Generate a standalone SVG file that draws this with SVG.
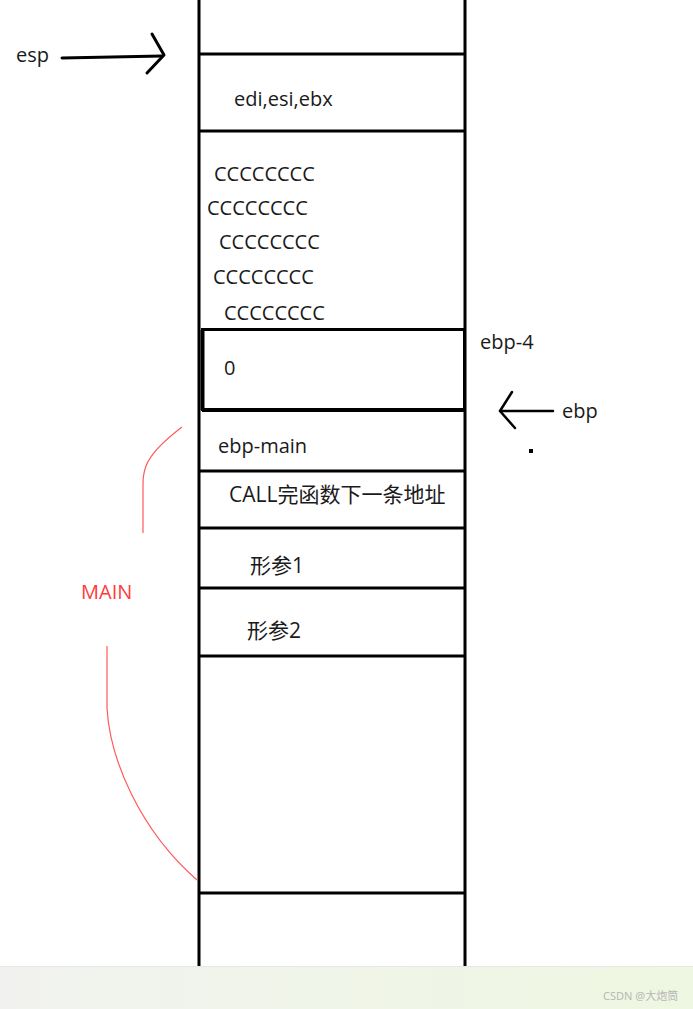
<svg xmlns="http://www.w3.org/2000/svg" width="693" height="1009" viewBox="0 0 693 1009">
<defs>
<style>
.t{font-family:"Open Sans","Noto Sans","Noto Sans CJK SC",sans-serif;font-size:20px;fill:#1a1a1a}
.cj{font-family:"Open Sans","Noto Sans CJK SC",sans-serif;font-size:21px;fill:#1a1a1a}
.ln{stroke:#000;stroke-width:3;fill:none}
.red{stroke:#ff5a5a;stroke-width:1.2;fill:none}
</style>
<linearGradient id="bar" x1="0" y1="0" x2="1" y2="0">
<stop offset="0" stop-color="#f1f2ef"/>
<stop offset="1" stop-color="#eef7e1"/>
</linearGradient>
</defs>
<rect width="693" height="1009" fill="#fff"/>
<g id="stack">
<line class="ln" x1="199" y1="0" x2="199" y2="966"/>
<line class="ln" x1="465" y1="0" x2="465" y2="966"/>
<line class="ln" x1="199" y1="54" x2="465" y2="54"/>
<line class="ln" x1="199" y1="131" x2="465" y2="131"/>
<line class="ln" x1="199" y1="471" x2="465" y2="471"/>
<line class="ln" x1="199" y1="528" x2="465" y2="528"/>
<line class="ln" x1="199" y1="588" x2="465" y2="588"/>
<line class="ln" x1="199" y1="656" x2="465" y2="656"/>
<line class="ln" x1="199" y1="893" x2="465" y2="893"/>
</g>
<g id="box-zero">
<rect x="202.5" y="329.5" width="262" height="80" fill="none" stroke="#000" stroke-width="3"/>
<line x1="202.5" y1="330" x2="202.5" y2="410" stroke="#000" stroke-width="4"/>
<line x1="202" y1="410" x2="465" y2="410" stroke="#000" stroke-width="4"/>
</g>
<g id="labels">
<text class="t" x="16" y="62">esp</text>
<text class="t" x="234" y="106">edi,esi,ebx</text>
<text class="t" x="214" y="181">CCCCCCCC</text>
<text class="t" x="207" y="215">CCCCCCCC</text>
<text class="t" x="219" y="249">CCCCCCCC</text>
<text class="t" x="213" y="284">CCCCCCCC</text>
<text class="t" x="224" y="320">CCCCCCCC</text>
<text class="t" x="480" y="349">ebp-4</text>
<text class="t" x="224" y="375">0</text>
<text class="t" x="562" y="418">ebp</text>
<text class="t" x="218" y="453">ebp-main</text>
<text class="cj" x="229" y="502">CALL完函数下一条地址</text>
<text class="cj" x="250" y="573">形参1</text>
<text class="cj" x="247" y="638">形参2</text>
<text class="t" x="81" y="599" style="fill:#ff3b3b">MAIN</text>
</g>
<g id="connectors">
<path d="M62 58 L162 56" stroke="#000" stroke-width="3" fill="none" stroke-linecap="round"/>
<path d="M152 34 L164 55 L147 73" stroke="#000" stroke-width="3" fill="none" stroke-linecap="round" stroke-linejoin="round"/>
<path d="M500 411 L553 411" stroke="#000" stroke-width="2.5" fill="none" stroke-linecap="round"/>
<path d="M512 392 L500 411 L515 428" stroke="#000" stroke-width="2.5" fill="none" stroke-linecap="round" stroke-linejoin="round"/>
<rect x="529" y="449" width="4" height="4" fill="#000"/>
<path class="red" d="M182 427 C165 440 150 455 146 466 C143 474 143 478 143 484 L143 533"/>
<path class="red" d="M107 646 L107 708 C110 760 140 830 197 880"/>
</g>
<rect x="0" y="966" width="693" height="43" fill="url(#bar)"/>
<line x1="0" y1="966.5" x2="693" y2="966.5" stroke="#e6e6e6"/>
<text x="603" y="1000" style="font-family:'Noto Sans','Noto Sans CJK SC',sans-serif;font-size:11px;fill:#b8b8b8">CSDN @大炮筒</text>
</svg>
